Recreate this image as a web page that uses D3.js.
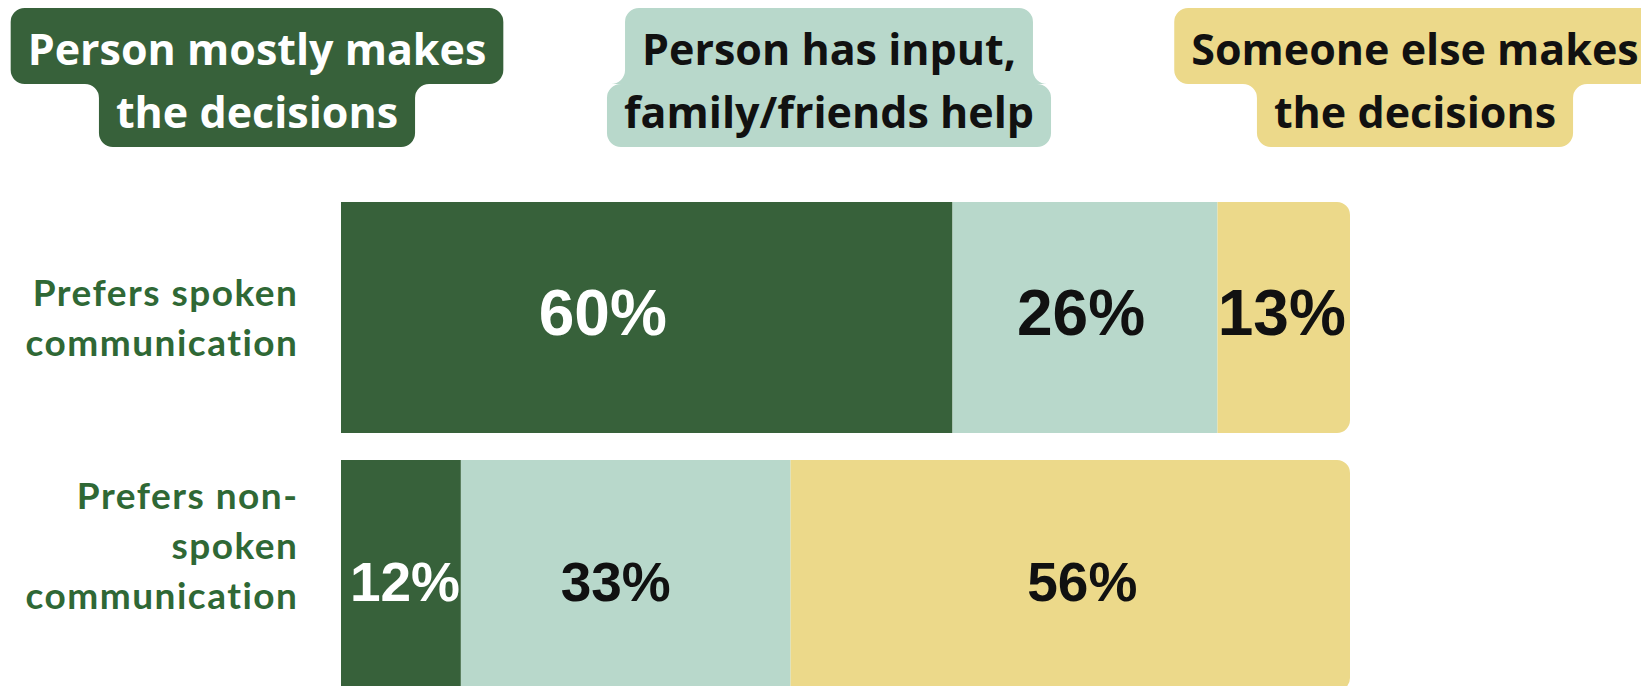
<!DOCTYPE html>
<html>
<head>
<meta charset="utf-8">
<script src="https://cdn.jsdelivr.net/npm/d3@7"></script>
<style>
  html, body { margin: 0; padding: 0; background: #ffffff; }
  svg { display: block; }
</style>
</head>
<body>
<script>
// ---- data ----
const categories = ["Prefers spoken communication", "Prefers non-spoken communication"];
const categoryLines = [["Prefers spoken", "communication"], ["Prefers non-", "spoken", "communication"]];
const seriesNames = ["Person mostly makes the decisions", "Person has input, family/friends help", "Someone else makes the decisions"];
const seriesLines = [["Person mostly makes", "the decisions"], ["Person has input,", "family/friends help"], ["Someone else makes", "the decisions"]];
const personDecides = [60, 12];
const familyHelps = [26, 33];
const someoneElse = [13, 56];

// ---- layout ----
const W = 1641, H = 686;
const colors = ["#37613a", "#b8d8cb", "#ecd98a"];
const legendText = ["#ffffff", "#111111", "#111111"];
const valueText = ["#ffffff", "#111111", "#111111"];
const legendCenters = [257, 829, 1415];
const valueFont = [64, 55];        // per row
const valueShift = [-5, 6];        // baseline tweak per row
const valueNudge = [[-44, -4, -2], [4, -10, 12]];
const catShift = [0, -30];

const svg = d3.select("body").append("svg").attr("width", W).attr("height", H);
svg.append("rect").attr("width", W).attr("height", H).attr("fill", "#ffffff");

const seriesValues = [personDecides, familyHelps, someoneElse];
const rows = categories.map((c, i) => {
  const vals = seriesValues.map(s => s[i]);
  const total = d3.sum(vals);
  let acc = 0;
  const segs = vals.map((v, k) => {
    const s = { key: seriesNames[k], k, v, x0: acc / total, x1: (acc + v) / total };
    acc += v;
    return s;
  });
  return { cat: c, i, segs };
});

const x = d3.scaleLinear().domain([0, 1]).range([341, 1350]);
const y = d3.scaleBand().domain(categories).range([202, 691]).paddingInner(0.1047).paddingOuter(0);

// rectangle with only the right-hand corners rounded
function rightRounded(x0, y0, w, h, r) {
  r = Math.min(r, w, h / 2);
  return `M${x0},${y0}H${x0 + w - r}A${r},${r} 0 0 1 ${x0 + w},${y0 + r}` +
         `V${y0 + h - r}A${r},${r} 0 0 1 ${x0 + w - r},${y0 + h}H${x0}Z`;
}

const rowG = svg.selectAll("g.row").data(rows).join("g").attr("class", "row");

rowG.selectAll("path.seg").data(d => d.segs.map(s => ({ ...s, cat: d.cat })))
  .join("path")
  .attr("class", "seg")
  .attr("fill", d => colors[d.k])
  .attr("d", d => {
    const x0 = x(d.x0), x1 = x(d.x1), y0 = y(d.cat), h = y.bandwidth();
    if (d.k === 2) return rightRounded(x0, y0, x1 - x0, h, 13);
    return `M${x0},${y0}H${x1}V${y0 + h}H${x0}Z`;
  });

// value labels
rowG.each(function (d) {
  const g = d3.select(this);
  const cy = y(d.cat) + y.bandwidth() / 2;
  const fs = valueFont[d.i];
  g.selectAll("text.val").data(d.segs).join("text")
    .attr("class", "val")
    .attr("x", s => (x(s.x0) + x(s.x1)) / 2 + valueNudge[d.i][s.k])
    .attr("y", cy + fs * 0.716 / 2 + valueShift[d.i])
    .attr("text-anchor", "middle")
    .attr("font-family", "'Liberation Sans', Arial, sans-serif")
    .attr("font-weight", 700)
    .attr("font-size", fs)
    .attr("fill", s => valueText[s.k])
    .text(s => s.v + "%");
});

// category labels
const catSize = 37, catLH = 50, catSpacing = 1.5;
rowG.each(function (d) {
  const lines = categoryLines[d.i];
  const cy = y(d.cat) + y.bandwidth() / 2;
  const first = cy - (lines.length - 1) * catLH / 2 + catSize * 0.36 + catShift[d.i];
  d3.select(this).append("text")
    .attr("text-anchor", "end")
    .attr("font-family", "Lato, 'Open Sans', sans-serif")
    .attr("font-weight", 700)
    .attr("font-size", catSize)
    .attr("letter-spacing", catSpacing)
    .attr("fill", "#2f6835")
    .selectAll("tspan").data(lines).join("tspan")
    .attr("x", x.range()[0] - 44 + catSpacing)
    .attr("y", (t, j) => first + j * catLH)
    .text(t => t);
});

// ---- legend: two-line text labels with a hugging rounded background ----
const legSize = 43, padX = 17, rad = 14;
const boxTop = 8, boxMid = 84, boxBottom = 147;
const baselines = [65, 128];

function ribbonPath(a1, b1, a2, b2) {
  // upper line spans [a1,b1], lower line spans [a2,b2]
  const r = rad;
  let p = `M${a1 + r},${boxTop}H${b1 - r}A${r},${r} 0 0 1 ${b1},${boxTop + r}V${boxMid - r}`;
  if (b1 > b2) {
    p += `A${r},${r} 0 0 1 ${b1 - r},${boxMid}H${b2 + r}A${r},${r} 0 0 0 ${b2},${boxMid + r}`;
  } else {
    p += `A${r},${r} 0 0 0 ${b1 + r},${boxMid}H${b2 - r}A${r},${r} 0 0 1 ${b2},${boxMid + r}`;
  }
  p += `V${boxBottom - r}A${r},${r} 0 0 1 ${b2 - r},${boxBottom}H${a2 + r}A${r},${r} 0 0 1 ${a2},${boxBottom - r}V${boxMid + r}`;
  if (a2 > a1) {
    p += `A${r},${r} 0 0 0 ${a2 - r},${boxMid}H${a1 + r}A${r},${r} 0 0 1 ${a1},${boxMid - r}`;
  } else {
    p += `A${r},${r} 0 0 1 ${a2 + r},${boxMid}H${a1 - r}A${r},${r} 0 0 0 ${a1},${boxMid - r}`;
  }
  p += `V${boxTop + r}A${r},${r} 0 0 1 ${a1 + r},${boxTop}Z`;
  return p;
}

const legG = svg.selectAll("g.legend").data(seriesNames).join("g").attr("class", "legend");
legG.each(function (name, k) {
  const g = d3.select(this);
  const bg = g.append("path").attr("fill", colors[k]);
  const cx = legendCenters[k];
  const widths = [];
  seriesLines[k].forEach((line, j) => {
    const t = g.append("text")
      .attr("x", cx).attr("y", baselines[j])
      .attr("text-anchor", "middle")
      .attr("font-family", "'Open Sans', Lato, sans-serif")
      .attr("font-weight", 700)
      .attr("font-size", legSize)
      .attr("fill", legendText[k])
      .text(line);
    widths.push(t.node().getComputedTextLength());
  });
  const a1 = cx - widths[0] / 2 - padX, b1 = cx + widths[0] / 2 + padX;
  const a2 = cx - widths[1] / 2 - padX, b2 = cx + widths[1] / 2 + padX;
  bg.attr("d", ribbonPath(a1, b1, a2, b2));
});
</script>
</body>
</html>
